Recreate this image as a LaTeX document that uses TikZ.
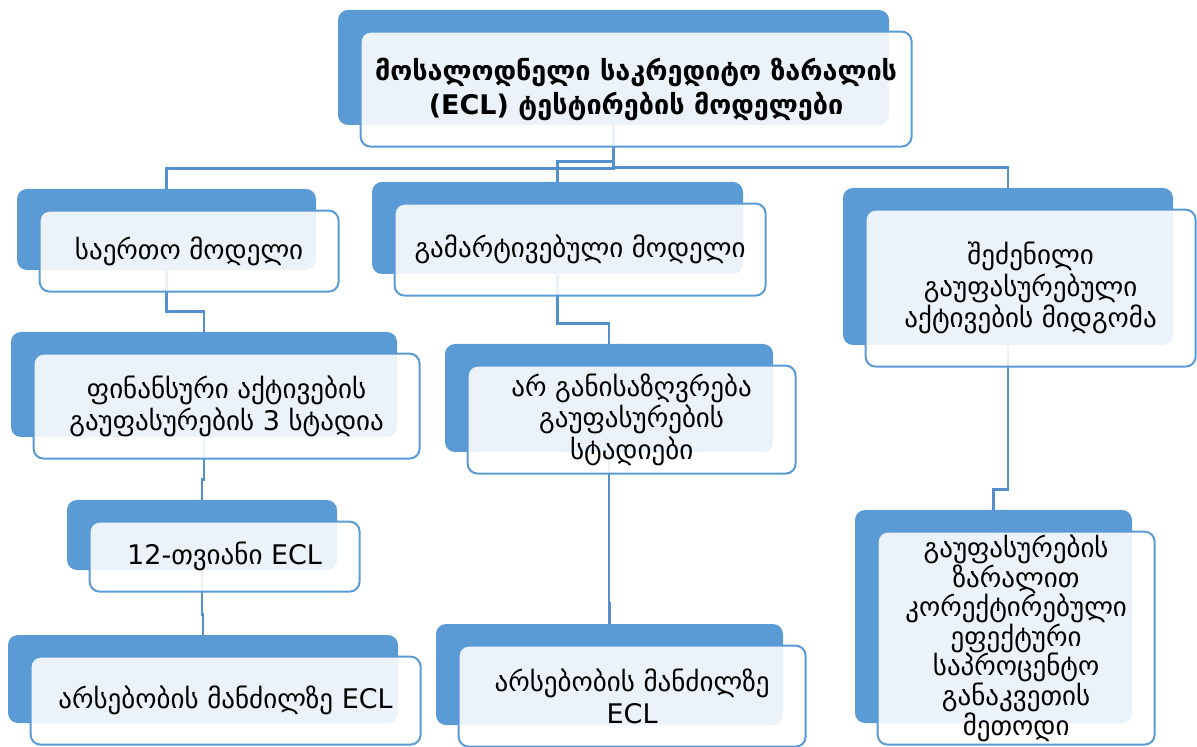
\documentclass[tikz,border=0pt]{standalone}
\usepackage{fontspec}
\setmainfont{DejaVu Sans}
\usepackage{tikz}
\usetikzlibrary{positioning,backgrounds}
\definecolor{cardblue}{HTML}{5B9BD5}
\definecolor{linkblue}{HTML}{5490CC}

\begin{document}
\begin{tikzpicture}
[x=0.5pt, y=-0.5pt, font=\fontsize{13.5}{15.8}\selectfont,
% STYLES
% The card style gives the size shared by a back card and its front card
card/.style 2 args={minimum width=#1, minimum height=#2},
% The back style draws the solid blue card behind each label
back/.style={rectangle, rounded corners=5pt, fill=cardblue, draw=none, inner sep=0pt},
% The front style draws the pale card that carries the text
front/.style={rectangle, rounded corners=5pt, draw=cardblue, line width=1pt, fill=white, fill opacity=0.88, text opacity=1, align=center, inner sep=0pt},
% The link style is used for the connectors of the hierarchy
link/.style={draw=linkblue, line width=1.3pt}]

\useasboundingbox (0,0) rectangle (1197,747);

% Draw the cards
\node [back, card={275.5pt}{57.5pt}] (root-b) at (613.5,67.5) {};
\node [front, card={275.5pt}{57.5pt}, below right=10.5pt and 11pt of root-b.north west, font=\fontsize{13.5}{17}\selectfont\bfseries] (root) {მოსალოდნელი საკრედიტო ზარალის\\(ECL) ტესტირების მოდელები};

% level one
\node [back, card={149.5pt}{40.5pt}] (general-b) at (166.5,229.5) {};
\node [front, card={149.5pt}{40.5pt}, below right=10.5pt and 11pt of general-b.north west] (general) {საერთო მოდელი};

\node [back, card={185.5pt}{46pt}] (simple-b) at (557.5,228) {};
\node [front, card={185.5pt}{46pt}, below right=10.5pt and 11pt of simple-b.north west] (simple) {გამარტივებული მოდელი};

\node [back, card={165pt}{78.5pt}] (purchased-b) at (1008,266.5) {};
\node [front, card={165pt}{78.5pt}, below right=10.5pt and 11pt of purchased-b.north west] (purchased) {შეძენილი\\გაუფასურებული\\აქტივების მიდგომა};

% level two
\node [back, card={193pt}{52.5pt}] (stages-b) at (204,384.5) {};
\node [front, card={193pt}{52.5pt}, below right=10.5pt and 11pt of stages-b.north west] (stages) {ფინანსური აქტივების\\გაუფასურების 3 სტადია};

\node [back, card={164pt}{54pt}] (nostages-b) at (609,398) {};
\node [front, card={164pt}{54pt}, below right=10.5pt and 11pt of nostages-b.north west] (nostages) {არ განისაზღვრება\\გაუფასურების\\სტადიები};

\node [back, card={138.5pt}{106.5pt}] (eir-b) at (993.5,616.5) {};
\node [front, card={138.5pt}{106.5pt}, below right=10.5pt and 11pt of eir-b.north west, font=\fontsize{13.5}{14.8}\selectfont] (eir) {გაუფასურების\\ზარალით\\კორექტირებული\\ეფექტური\\საპროცენტო\\განაკვეთის\\მეთოდი};

% level three
\node [back, card={135pt}{35pt}] (twelve-b) at (202,535) {};
\node [front, card={135pt}{35pt}, below right=10.5pt and 11pt of twelve-b.north west] (twelve) {12-თვიანი ECL};

\node [back, card={173.5pt}{50.5pt}] (lifesimple-b) at (609.5,674.5) {};
\node [front, card={173.5pt}{50.5pt}, below right=10.5pt and 11pt of lifesimple-b.north west] (lifesimple) {არსებობის მანძილზე\\ECL};

% level four
\node [back, card={195pt}{44pt}] (lifetime-b) at (203,679) {};
\node [front, card={195pt}{44pt}, below right=10.5pt and 11pt of lifetime-b.north west] (lifetime) {არსებობის მანძილზე ECL};

% Draw the links between cards
\begin{scope}[on background layer]
\path[link] (root-b) |- ([yshift=10pt]general-b.north) -- (general-b.north);
\path[link] (root-b) |- ([yshift=10pt]simple-b.north) -- (simple-b.north);
\path[link] (root-b) |- ([yshift=10pt]purchased-b.north) -- (purchased-b.north);
\path[link] (general-b) |- ([yshift=10pt]stages-b.north) -- (stages-b.north);
\path[link] (simple-b) |- ([yshift=10pt]nostages-b.north) -- (nostages-b.north);
\path[link] (purchased-b) |- ([yshift=10pt]eir-b.north) -- (eir-b.north);
\path[link] (stages-b) |- ([yshift=10pt]twelve-b.north) -- (twelve-b.north);
\path[link] (nostages-b) |- ([yshift=10pt]lifesimple-b.north) -- (lifesimple-b.north);
\path[link] (twelve-b) |- ([yshift=10pt]lifetime-b.north) -- (lifetime-b.north);
\end{scope}

\end{tikzpicture}
\end{document}
